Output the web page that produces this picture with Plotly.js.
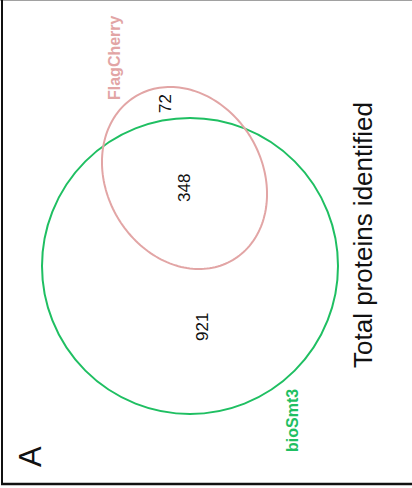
<!DOCTYPE html>
<html>
<head>
<meta charset="utf-8">
<script src="https://cdn.plot.ly/plotly-3.0.1.min.js"></script>
<style>
  html, body { margin: 0; padding: 0; background: #ffffff; }
  #chart { width: 412px; height: 488px; }
</style>
</head>
<body>
<div id="chart"></div>
<script>
// Venn diagram of proteins identified by two pull-downs (panel A)
const setNames = ['bioSmt3', 'FlagCherry'];
const setColors = ['#1fbf62', '#e2a5a5'];
const regionLabels = ['bioSmt3 only', 'both', 'FlagCherry only'];
const regionCounts = [921, 348, 72];

// Set outlines in plot units (y runs downward): circle for bioSmt3,
// tilted ellipse for FlagCherry
const circleCenter = [190, 266];
const circleRadius = 148;
const ellipseCenter = [184.5, 178];
const ellipseAxes = [95.2, 77.7];
const ellipseAngleDeg = 59.6;

function ellipsePath(c, ax, angDeg, n) {
  const th = angDeg * Math.PI / 180;
  const pts = [];
  for (let i = 0; i < n; i++) {
    const t = 2 * Math.PI * i / n;
    const u = ax[0] * Math.cos(t), v = ax[1] * Math.sin(t);
    const x = c[0] + u * Math.cos(th) - v * Math.sin(th);
    const y = c[1] + u * Math.sin(th) + v * Math.cos(th);
    pts.push((i === 0 ? 'M' : 'L') + x.toFixed(2) + ',' + y.toFixed(2));
  }
  return pts.join(' ') + ' Z';
}

const FONT = 'Liberation Sans, Arial, Helvetica, sans-serif';

const shapes = [
  { type: 'circle', xref: 'x', yref: 'y',
    x0: circleCenter[0] - circleRadius, x1: circleCenter[0] + circleRadius,
    y0: circleCenter[1] - circleRadius, y1: circleCenter[1] + circleRadius,
    line: { color: setColors[0], width: 2 } },
  { type: 'path', xref: 'x', yref: 'y',
    path: ellipsePath(ellipseCenter, ellipseAxes, ellipseAngleDeg, 180),
    line: { color: setColors[1], width: 2 } },
  // panel frame
  { type: 'line', xref: 'paper', yref: 'paper', x0: 0, x1: 1, y0: 0.999, y1: 0.999,
    line: { color: '#a0a0a0', width: 1 } },
  { type: 'line', xref: 'x', yref: 'y', x0: 2, x1: 2, y0: 0, y1: 485,
    line: { color: '#111111', width: 2 } },
  { type: 'line', xref: 'x', yref: 'y', x0: 1, x1: 412, y0: 484, y1: 484,
    line: { color: '#111111', width: 2.5 } }
];

const countPos = [[202, 327], [184, 188], [165, 104]];
const annotations = regionCounts.map((v, i) => ({
  x: countPos[i][0], y: countPos[i][1], xref: 'x', yref: 'y',
  text: String(v), showarrow: false, textangle: -90,
  xanchor: 'center', yanchor: 'middle',
  font: { family: FONT, size: 17, color: '#111111' }
}));

annotations.push(
  { x: 292, y: 421, xref: 'x', yref: 'y', text: '<b>' + setNames[0] + '</b>',
    showarrow: false, textangle: -90, xanchor: 'center', yanchor: 'middle',
    font: { family: FONT, size: 16, color: setColors[0] } },
  { x: 114, y: 58, xref: 'x', yref: 'y', text: '<b>' + setNames[1] + '</b>',
    showarrow: false, textangle: -90, xanchor: 'center', yanchor: 'middle',
    font: { family: FONT, size: 16, color: setColors[1] } },
  { x: 363, y: 235, xref: 'x', yref: 'y', text: 'Total proteins identified',
    showarrow: false, textangle: -90, xanchor: 'center', yanchor: 'middle',
    font: { family: FONT, size: 26, color: '#111111' } },
  { x: 30, y: 457, xref: 'x', yref: 'y', text: 'A',
    showarrow: false, textangle: -90, xanchor: 'center', yanchor: 'middle',
    font: { family: FONT, size: 31, color: '#111111' } }
);

const layout = {
  width: 412, height: 488,
  margin: { l: 0, r: 0, t: 0, b: 0 },
  paper_bgcolor: '#ffffff', plot_bgcolor: '#ffffff',
  xaxis: { range: [0, 412], visible: false, fixedrange: true },
  yaxis: { range: [488, 0], visible: false, fixedrange: true },
  showlegend: false,
  shapes: shapes,
  annotations: annotations
};

Plotly.newPlot('chart', [], layout, { staticPlot: true, displayModeBar: false });
</script>
</body>
</html>
